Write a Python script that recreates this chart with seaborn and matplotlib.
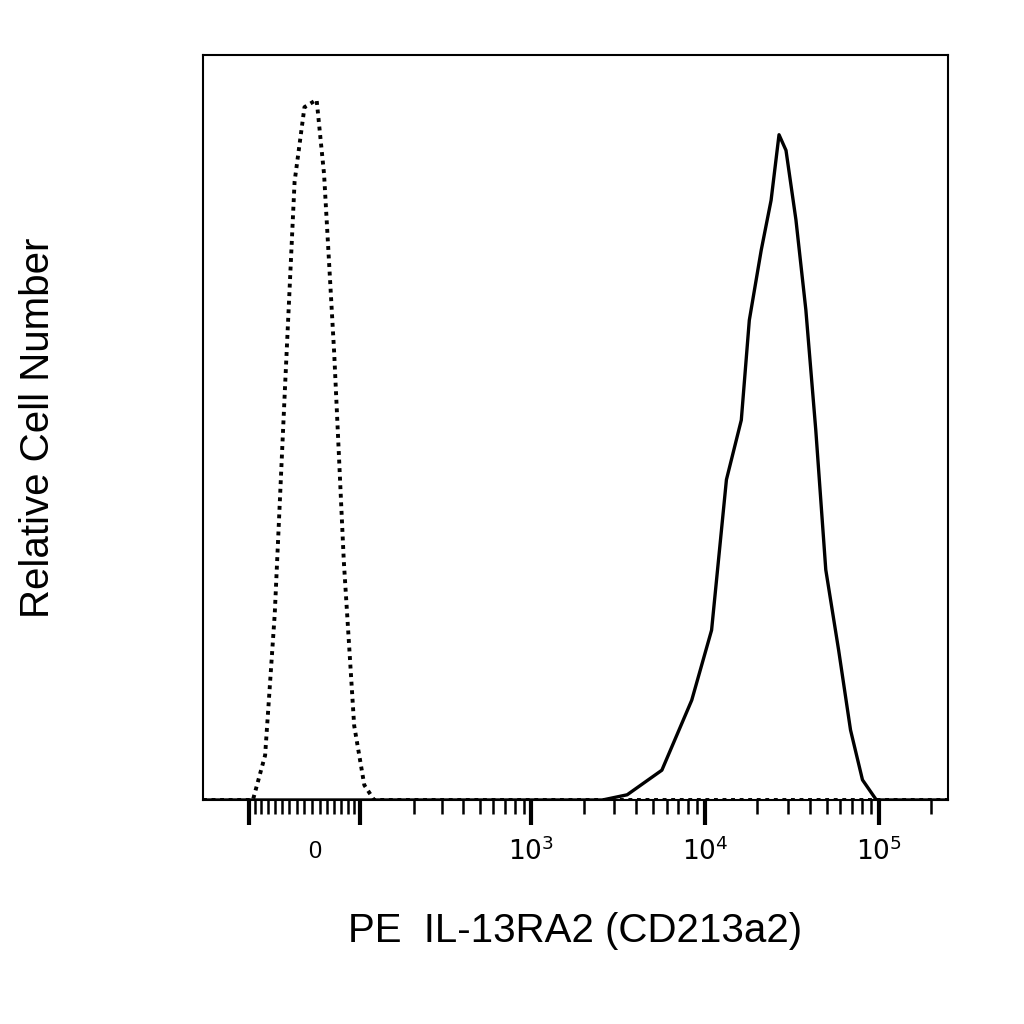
import numpy as np
import pandas as pd
import seaborn as sns
import matplotlib.pyplot as plt

sns.set_style('white')
plt.rcParams['font.family'] = ['Liberation Sans', 'DejaVu Sans']
plt.rcParams['text.color'] = 'black'
plt.rcParams['axes.labelcolor'] = 'black'

# control (isotype), fluorescence values and relative height
ctrl_x = [-73, -54, -40, -26, -13, 0, 16, 26, 40, 54, 70, 87, 105]
ctrl_y = [0, 0.06, 0.25, 0.55, 0.83, 0.93, 0.94, 0.84, 0.6, 0.32, 0.1, 0.02, 0]

# stained sample
stain_x = [2565, 3560, 5640, 8380, 10900, 13270, 16160, 17970, 21040, 23980, 26640,
           29220, 33320, 38010, 43340, 49500, 58700, 68700, 80500, 96800]
stain_y = [0, 0.007, 0.04, 0.134, 0.228, 0.43, 0.51, 0.644, 0.738, 0.805, 0.893,
           0.872, 0.779, 0.658, 0.497, 0.309, 0.201, 0.094, 0.027, 0]

xmin, xmax = -177, 250000
W = 99.0


def tr(v):
    return np.arcsinh(np.asarray(v, dtype=float) / W)


fig = plt.figure(figsize=(10.24, 10.24), dpi=100)
ax = fig.add_axes([203/1024, 1 - 800/1024, 745/1024, 745/1024])

c = pd.DataFrame({'x': tr([xmin] + ctrl_x + [xmax]), 'y': [0] + ctrl_y + [0]})
s = pd.DataFrame({'x': tr([xmin] + stain_x + [xmax]), 'y': [0] + stain_y + [0]})
sns.lineplot(data=s, x='x', y='y', ax=ax, color='black', lw=2.4, sort=False)
sns.lineplot(data=c, x='x', y='y', ax=ax, color='black', lw=2.8, sort=False,
             linestyle=(0, (1, 1.2)))

ax.set_xlim(tr(xmin), tr(xmax))
ax.set_ylim(0, 1)
for sp in ax.spines.values():
    sp.set_color('black')
    sp.set_linewidth(1.5)

major = [-80, 80, 1000, 10000, 100000]
minor = list(range(-70, 80, 10)) + list(range(200, 1000, 100)) + \
    list(range(2000, 10000, 1000)) + list(range(20000, 100000, 10000)) + [200000]
ax.set_xticks(tr(major))
ax.set_xticklabels(['', '', '$10^3$', '$10^4$', '$10^5$'])
ax.set_xticks(tr(minor), minor=True)
ax.text(tr(0) + 0.13, -0.055, '0', transform=ax.get_xaxis_transform(),
        ha='center', va='top', fontsize=17)
ax.tick_params(axis='x', which='major', direction='out', length=18, width=3,
               labelsize=19, pad=8, bottom=True, color='black', labelcolor='black')
ax.tick_params(axis='x', which='minor', direction='out', length=10, width=1.8,
               bottom=True, color='black')
ax.set_yticks([])
ax.set_xlabel('PE  IL-13RA2 (CD213a2)', fontsize=29, labelpad=34)
ax.set_ylabel('Relative Cell Number', fontsize=29, labelpad=105)

fig.savefig('out.png', dpi=100)
